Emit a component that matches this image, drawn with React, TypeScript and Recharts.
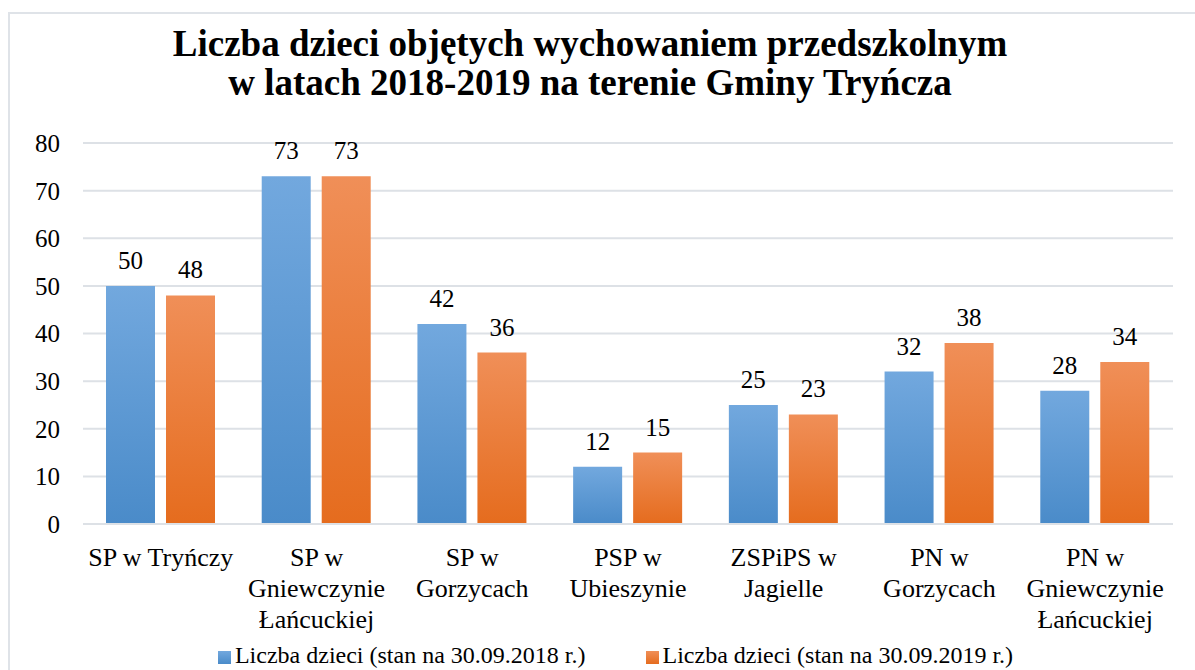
import React from 'react';
import {
  Bar,
  BarChart,
  CartesianGrid,
  LabelList,
  Legend,
  XAxis,
  YAxis
} from 'recharts';

// category labels, already broken into the lines the reference shows
const CATEGORY_LINES = [
  ['SP w Tryńczy'],
  ['SP w', 'Gniewczynie', 'Łańcuckiej'],
  ['SP w', 'Gorzycach'],
  ['PSP w', 'Ubieszynie'],
  ['ZSPiPS w', 'Jagielle'],
  ['PN w', 'Gorzycach'],
  ['PN w', 'Gniewczynie', 'Łańcuckiej']
];
const COUNT_2018 = [50, 73, 42, 12, 25, 32, 28];
const COUNT_2019 = [48, 73, 36, 15, 23, 38, 34];
const Y_TICKS = [0, 10, 20, 30, 40, 50, 60, 70, 80];

const SERIES_2018 = 'Liczba dzieci (stan na 30.09.2018 r.)';
const SERIES_2019 = 'Liczba dzieci (stan na 30.09.2019 r.)';
const TITLE = [
  'Liczba dzieci objętych wychowaniem przedszkolnym',
  'w latach 2018-2019 na terenie Gminy Tryńcza'
];

const FONT = "'Liberation Serif', 'Times New Roman', serif";

const data = CATEGORY_LINES.map((lines, i) => ({
  name: lines.join(' '),
  y2018: COUNT_2018[i],
  y2019: COUNT_2019[i]
}));

function CategoryTick({ x, y, index }: any) {
  const lines = CATEGORY_LINES[index] || [];
  return (
    <text x={x} y={y + 34} textAnchor="middle" fontSize={26} fontFamily={FONT} fill="#000">
      {lines.map((line, i) => (
        <tspan key={i} x={x} dy={i === 0 ? 0 : 31}>
          {line}
        </tspan>
      ))}
    </text>
  );
}

function LegendBox() {
  const items = [
    { label: SERIES_2018, bg: 'linear-gradient(#72a8de, #4a8bc9)' },
    { label: SERIES_2019, bg: 'linear-gradient(#f08f58, #e56c1e)' }
  ];
  return (
    <div
      style={{
        display: 'flex',
        justifyContent: 'center',
        gap: 60,
        height: 36,
        lineHeight: '30px',
        fontFamily: FONT,
        fontSize: 24,
        color: '#000',
        paddingLeft: 36
      }}
    >
      {items.map((it) => (
        <div key={it.label} style={{ display: 'flex', alignItems: 'flex-start' }}>
          <span
            style={{
              display: 'inline-block',
              width: 13,
              height: 13,
              marginRight: 4,
              marginTop: 11,
              background: it.bg
            }}
          />
          <span>{it.label}</span>
        </div>
      ))}
    </div>
  );
}

export default function App() {
  return (
    <div style={{ position: 'absolute', left: 0, top: 0, width: 1195, height: 670, background: '#fff', overflow: 'hidden' }}>
      <div
        style={{
          position: 'absolute',
          left: 8,
          top: 12,
          width: 1200,
          height: 700,
          border: '2px solid #dfe3e8',
          boxSizing: 'border-box'
        }}
      />
      <div
        style={{
          position: 'absolute',
          left: 0,
          top: 24,
          width: 1180,
          textAlign: 'center',
          fontFamily: FONT,
          fontWeight: 'bold',
          fontSize: 37,
          lineHeight: '39px',
          color: '#000'
        }}
      >
        {TITLE.map((line) => (
          <div key={line}>{line}</div>
        ))}
      </div>
      <div style={{ position: 'absolute', left: 0, top: 0 }}>
        <BarChart
          width={1195}
          height={670}
          data={data}
          margin={{ top: 143, right: 22, left: 0, bottom: 0 }}
          barSize={49}
          barGap={11}
        >
          <defs>
            <linearGradient id="blueGrad" x1="0" y1="0" x2="0" y2="1">
              <stop offset="0%" stopColor="#72a8de" />
              <stop offset="100%" stopColor="#4a8bc9" />
            </linearGradient>
            <linearGradient id="orangeGrad" x1="0" y1="0" x2="0" y2="1">
              <stop offset="0%" stopColor="#f08f58" />
              <stop offset="100%" stopColor="#e56c1e" />
            </linearGradient>
          </defs>
          <CartesianGrid vertical={false} stroke="#dde1e6" strokeWidth={2} />
          <XAxis
            dataKey="name"
            height={110}
            interval={0}
            tickLine={false}
            axisLine={{ stroke: '#dde1e6', strokeWidth: 2 }}
            tick={<CategoryTick />}
          />
          <YAxis
            width={83}
            domain={[0, 80]}
            ticks={Y_TICKS}
            interval={0}
            tickLine={false}
            axisLine={false}
            tickMargin={17}
            tick={{ fill: '#000', fontSize: 25, fontFamily: FONT }}
          />
          <Legend
            verticalAlign="bottom"
            content={() => <LegendBox />}
            wrapperStyle={{ position: 'absolute', left: 0, top: 640, width: 1195, height: 36 }}
          />
          <Bar dataKey="y2018" name={SERIES_2018} fill="url(#blueGrad)" isAnimationActive={false}>
            <LabelList dataKey="y2018" position="top" offset={17} fill="#000" fontSize={25} fontFamily={FONT} />
          </Bar>
          <Bar dataKey="y2019" name={SERIES_2019} fill="url(#orangeGrad)" isAnimationActive={false}>
            <LabelList dataKey="y2019" position="top" offset={17} fill="#000" fontSize={25} fontFamily={FONT} />
          </Bar>
        </BarChart>
      </div>
    </div>
  );
}
